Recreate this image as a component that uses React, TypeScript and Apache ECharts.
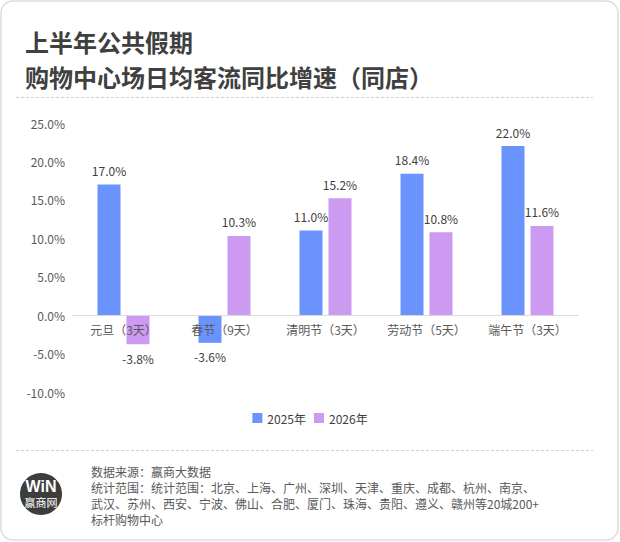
import React, { useEffect, useRef } from "react";
import * as echarts from "echarts";

const categories = ["元旦（3天）", "春节（9天）", "清明节（3天）", "劳动节（5天）", "端午节（3天）"];
const values2025 = [17.0, -3.6, 11.0, 18.4, 22.0];
const values2026 = [-3.8, 10.3, 15.2, 10.8, 11.6];
const seriesNames = ["2025年", "2026年"];
const titleLines = ["上半年公共假期", "购物中心场日均客流同比增速（同店）"];
const footerLines = [
  "数据来源：赢商大数据",
  "统计范围：统计范围：北京、上海、广州、深圳、天津、重庆、成都、杭州、南京、",
  "武汉、苏州、西安、宁波、佛山、合肥、厦门、珠海、贵阳、遵义、赣州等20城200+",
  "标杆购物中心",
];

const FONT = "'Noto Sans CJK SC', 'Noto Sans', sans-serif";

const GRID_TOP = 123;
const GRID_BOTTOM_Y = 392;
const Y_MIN = -10;
const Y_MAX = 25;

function toData(vals: number[]) {
  return vals.map((v) => ({
    value: v,
    label: { position: v >= 0 ? "top" : "bottom" },
  }));
}

export default function App() {
  const ref = useRef<HTMLDivElement>(null);
  useEffect(() => {
    if (!ref.current) return;
    const chart = echarts.init(ref.current, undefined, { renderer: "svg" });
    const zeroY = GRID_TOP + ((Y_MAX - 0) / (Y_MAX - Y_MIN)) * (GRID_BOTTOM_Y - GRID_TOP);
    const labelCommon = {
      show: true,
      distance: 8,
      color: "#404040",
      fontSize: 12,
      fontFamily: FONT,
      formatter: (p: any) => Number(p.value).toFixed(1) + "%",
    };
    chart.setOption({
      animation: false,
      backgroundColor: "#ffffff",
      textStyle: { fontFamily: FONT },
      grid: { left: 73, right: 42, top: GRID_TOP, bottom: 542 - GRID_BOTTOM_Y },
      legend: {
        top: 407,
        left: "center",
        itemWidth: 10,
        itemHeight: 10,
        itemGap: 8,
        icon: "rect",
        textStyle: { color: "#404040", fontSize: 12, fontFamily: FONT },
        data: seriesNames,
      },
      xAxis: {
        type: "category",
        data: categories,
        z: 10,
        offset: -(GRID_BOTTOM_Y - zeroY),
        axisLine: { onZero: false, lineStyle: { color: "#d9d9d9", width: 1 } },
        axisTick: { show: false },
        axisLabel: {
          color: "#595959",
          fontSize: 12,
          fontFamily: FONT,
          margin: 8,
          interval: 0,
          hideOverlap: false,
        },
      },
      yAxis: {
        type: "value",
        min: Y_MIN,
        max: Y_MAX,
        interval: 5,
        axisLine: { show: false },
        axisTick: { show: false },
        splitLine: { show: false },
        axisLabel: {
          color: "#595959",
          fontSize: 12,
          fontFamily: FONT,
          margin: 8,
          formatter: (v: number) => v.toFixed(1) + "%",
        },
      },
      series: [
        {
          name: seriesNames[0],
          type: "bar",
          data: toData(values2025),
          barWidth: 23,
          barGap: "26%",
          itemStyle: { color: "#6b93fe" },
          label: labelCommon,
        },
        {
          name: seriesNames[1],
          type: "bar",
          data: toData(values2026),
          barWidth: 23,
          barGap: "26%",
          itemStyle: { color: "#cd9af2" },
          label: labelCommon,
        },
      ],
      graphic: [
        {
          type: "rect",
          shape: { x: 1, y: 1, width: 617, height: 539, r: 12 },
          style: { fill: "none", stroke: "#dcdcdc", lineWidth: 1.5 },
          silent: true,
          z: -1,
        },
        ...titleLines.map((t, i) => ({
          type: "text",
          x: 25,
          y: 41 + i * 35,
          style: {
            text: t,
            fontSize: 24,
            lineHeight: 26,
            fontWeight: "bold",
            fontFamily: FONT,
            fill: "#404040",
            verticalAlign: "middle",
          },
        })),
        {
          type: "line",
          shape: { x1: 16, y1: 97.5, x2: 593, y2: 97.5 },
          style: { stroke: "#d0d0d0", lineWidth: 1, lineDash: [3, 2] },
        },
        {
          type: "line",
          shape: { x1: 16, y1: 450.5, x2: 593, y2: 450.5 },
          style: { stroke: "#d0d0d0", lineWidth: 1, lineDash: [3, 2] },
        },
        {
          type: "circle",
          shape: { cx: 41, cy: 494, r: 21 },
          style: { fill: "#3d3d3d" },
        },
        {
          type: "text",
          x: 41,
          y: 486,
          style: {
            text: "WiN",
            fontSize: 16,
            fontWeight: "bold",
            fontFamily: "'Liberation Sans', Arial, sans-serif",
            fill: "#ffffff",
            align: "center",
            verticalAlign: "middle",
          },
        },
        {
          type: "text",
          x: 41,
          y: 502,
          style: {
            text: "赢商网",
            fontSize: 11,
            fontFamily: FONT,
            fill: "#ffffff",
            align: "center",
            verticalAlign: "middle",
          },
        },
        ...footerLines.map((t, i) => ({
          type: "text",
          x: 91,
          y: 471 + i * 16,
          style: {
            text: t,
            fontSize: 12,
            fontFamily: FONT,
            fill: "#595959",
            verticalAlign: "middle",
          },
        })),
      ],
    });
    return () => chart.dispose();
  }, []);
  return (
    <div
      ref={ref}
      style={{ position: "fixed", left: 0, top: 0, width: 620, height: 542 }}
    />
  );
}
